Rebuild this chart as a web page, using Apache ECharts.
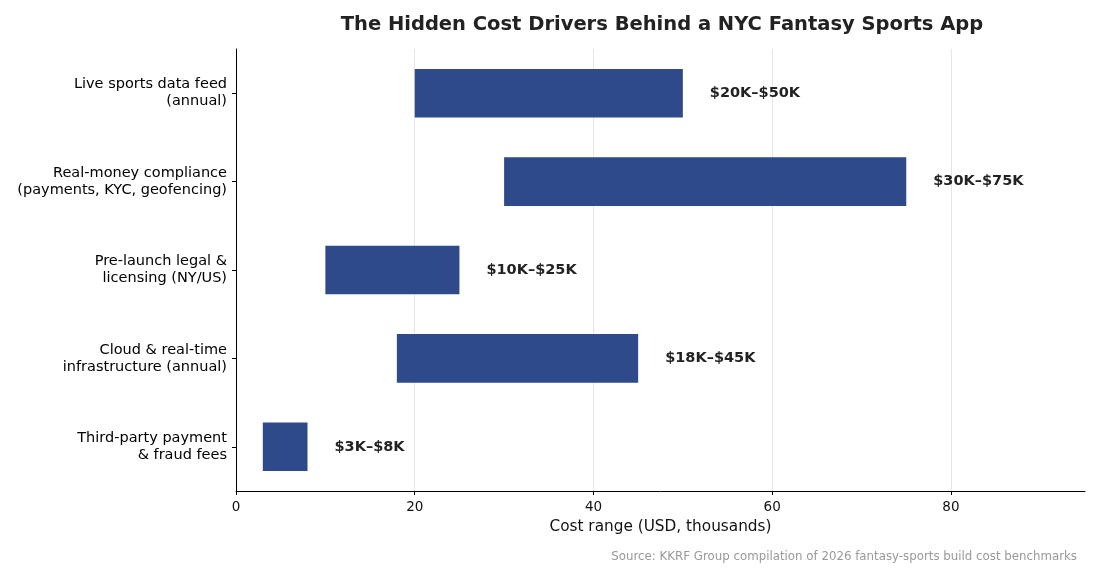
<!DOCTYPE html>
<html>
<head>
<meta charset="utf-8">
<script src="https://cdn.jsdelivr.net/npm/echarts@6/dist/echarts.min.js"></script>
<style>
  html, body { margin: 0; padding: 0; background: #fff; }
  #chart { width: 1100px; height: 580px; }
</style>
</head>
<body>
<div id="chart"></div>
<script>
// categories top to bottom
var categories = [
    'Live sports data feed\n(annual)',
    'Real-money compliance\n(payments, KYC, geofencing)',
    'Pre-launch legal &\nlicensing (NY/US)',
    'Cloud & real-time\ninfrastructure (annual)',
    'Third-party payment\n& fraud fees'
];
var lowCost = [20, 30, 10, 18, 3];   // thousands USD
var highCost = [50, 75, 25, 45, 8];
var xTicks = [0, 20, 40, 60, 80];

var spans = highCost.map(function (h, i) { return h - lowCost[i]; });
var font = 'DejaVu Sans';

var myChart = echarts.init(document.getElementById('chart'));

myChart.setOption({
    animation: false,
    textStyle: { fontFamily: font },
    title: {
        text: 'The Hidden Cost Drivers Behind a NYC Fantasy Sports App',
        left: 657,
        top: 10,
        textAlign: 'center',
        textStyle: { fontFamily: font, fontSize: 19.5, fontWeight: 'bold', color: '#222' }
    },
    graphic: [{
        type: 'text',
        right: 23,
        top: 551,
        style: {
            text: 'Source: KKRF Group compilation of 2026 fantasy-sports build cost benchmarks',
            font: '11.8px "DejaVu Sans"',
            fill: '#999'
        }
    }],
    grid: { left: 236, right: 15, top: 49, bottom: 89, containLabel: false },
    xAxis: {
        type: 'value',
        min: 0,
        max: 95,
        interval: 20,
        name: 'Cost range (USD, thousands)',
        nameLocation: 'middle',
        nameGap: 29,
        nameTextStyle: { fontFamily: font, fontSize: 15.3, color: '#111' },
        axisLine: { show: true, lineStyle: { color: '#000', width: 1 } },
        axisTick: { show: true, length: 4, customValues: xTicks, lineStyle: { color: '#000' } },
        axisLabel: {
            margin: 9, fontSize: 13.5, color: '#111', fontFamily: font,
            customValues: xTicks
        },
        splitLine: { show: false }
    },
    yAxis: {
        type: 'category',
        inverse: true,
        data: categories,
        axisLine: { show: true, lineStyle: { color: '#000', width: 1 } },
        axisTick: { show: true, alignWithLabel: true, length: 4, lineStyle: { color: '#000' } },
        axisLabel: {
            margin: 9, fontSize: 14.5, lineHeight: 17, color: '#000', fontFamily: font,
            align: 'right', verticalAlign: 'middle', padding: [12, 0, 0, 0]
        },
        splitLine: { show: false }
    },
    series: [
        {
            name: 'base',
            type: 'bar',
            stack: 'range',
            data: lowCost,
            barWidth: '55%',
            itemStyle: { color: 'transparent' },
            emphasis: { disabled: true },
            silent: true,
            z: 1,
            markLine: {
                silent: true,
                z: 0,
                symbol: 'none',
                label: { show: false },
                lineStyle: { color: '#e6e6e6', width: 1, type: 'solid' },
                data: xTicks.filter(function (t) { return t > 0; }).map(function (t) { return { xAxis: t }; })
            }
        },
        {
            name: 'Cost range',
            type: 'bar',
            stack: 'range',
            data: spans,
            barWidth: '55%',
            z: 3,
            itemStyle: { color: '#2E4A8B' },
            label: {
                show: true,
                position: 'right',
                distance: 27,
                fontFamily: font,
                fontSize: 14.5,
                fontWeight: 'bold',
                color: '#222',
                formatter: function (p) {
                    return '$' + lowCost[p.dataIndex] + 'K\u2013$' + highCost[p.dataIndex] + 'K';
                }
            }
        }
    ]
});
</script>
</body>
</html>
